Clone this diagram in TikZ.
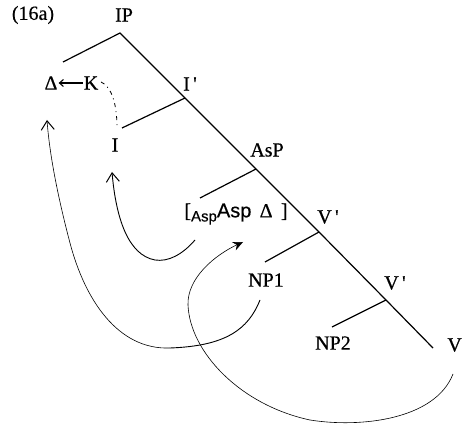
\documentclass[tikz,border=0pt]{standalone}
\usepackage{fontspec}
\setmainfont[FakeBold=0.6]{Liberation Serif}
\setsansfont[FakeBold=0.6]{Liberation Sans}
\usetikzlibrary{arrows.meta}
\begin{document}
\begin{tikzpicture}[x=1pt,y=-1pt,
  lbl/.style={inner sep=0pt,font=\fontsize{20}{23}\selectfont},
  treeline/.style={line width=1.2pt},
  mvline/.style={line width=0.9pt},
  thinmv/.style={line width=0.6pt},
  barb/.style={-{Straight Barb[length=9pt,width=13pt,line width=1pt]}},
  bigtip/.style={-{Stealth[length=10pt,width=9pt]}}]
\useasboundingbox (0,0) rectangle (463,427);
% labels
\node[lbl] (ex) at (33,15) {(16a)};
\node[lbl] (IP) at (124,15) {IP};
\node[lbl] (Ibar) at (190,84) {I\,\textquotesingle};
\node[lbl] (I) at (115,145) {I};
\node[lbl] (Delta) at (51,83) {Δ};
\node[lbl] (K) at (91,83) {K};
\node[lbl] (AsP) at (267,150) {AsP};
\node[lbl] (asp) at (236,214) {[\raisebox{-0.45ex}{\fontsize{15}{17}\selectfont\sffamily Asp}{\sffamily Asp}\, Δ\, ]};
\node[lbl] (Vbar1) at (328,217) {V\,\textquotesingle};
\node[lbl] (NP1) at (266,280) {NP1};
\node[lbl] (Vbar2) at (395,283) {V\,\textquotesingle};
\node[lbl] (NP2) at (333,343) {NP2};
\node[lbl,anchor=east] (V) at (462,345) {V};
% tree coordinates
\coordinate (top) at (120,33);
\coordinate (ipl) at (63,62);
\coordinate (ib) at (185,98);
\coordinate (ibl) at (122,128);
\coordinate (ab) at (256,169);
\coordinate (abl) at (200,198);
\coordinate (vb1) at (319,232);
\coordinate (vb1l) at (265,262);
\coordinate (vb2) at (386,300);
\coordinate (vb2l) at (332,327);
\coordinate (bot) at (433,348);
\draw[treeline] (ipl) -- (top) -- (ib) -- (ab) -- (vb1) -- (vb2) -- (bot);
\draw[treeline] (ib) -- (ibl);
\draw[treeline] (ab) -- (abl);
\draw[treeline] (vb1) -- (vb1l);
\draw[treeline] (vb2) -- (vb2l);
% K to Delta
\draw[line width=1.1pt,-{Straight Barb[length=4pt,width=7pt]}] ([xshift=-1pt]K.west) -- ([xshift=1pt]Delta.east);
% dash-dot from K to I
\coordinate (ks) at (101,82);
\coordinate (it) at (117,128);
\draw[line width=0.8pt,dash pattern=on 4pt off 4pt on 1pt off 4pt] (ks) .. controls (110,86) and (117,100) .. (it);
% movement arrows
\coordinate (n1s) at (260,300);
\coordinate (n1m) at (170,348);
\coordinate (n1u) at (70,243);
\coordinate (n1t) at (47,120);
\draw[mvline] (n1s) .. controls (248,330) and (225,346) .. (n1m);
\draw[thinmv] (n1m) .. controls (118,350) and (85,300) .. (n1u);
\draw[thinmv,barb] (n1u) .. controls (60,205) and (50,160) .. (n1t);
\coordinate (as) at (195,240);
\coordinate (am) at (155,260);
\coordinate (at1) at (112,172);
\draw[mvline] (as) .. controls (182,255) and (168,262) .. (am);
\draw[mvline,barb] (am) .. controls (128,255) and (116,218) .. (at1);
\coordinate (vs) at (453,374);
\coordinate (vm) at (310,420);
\coordinate (vl) at (188,305);
\coordinate (vt) at (243,242);
\draw[thinmv] (vs) .. controls (435,420) and (360,428) .. (vm);
\draw[thinmv] (vm) .. controls (240,405) and (190,352) .. (vl);
\draw[thinmv,bigtip] (vl) .. controls (187,278) and (215,255) .. (vt);
\end{tikzpicture}
\end{document}
